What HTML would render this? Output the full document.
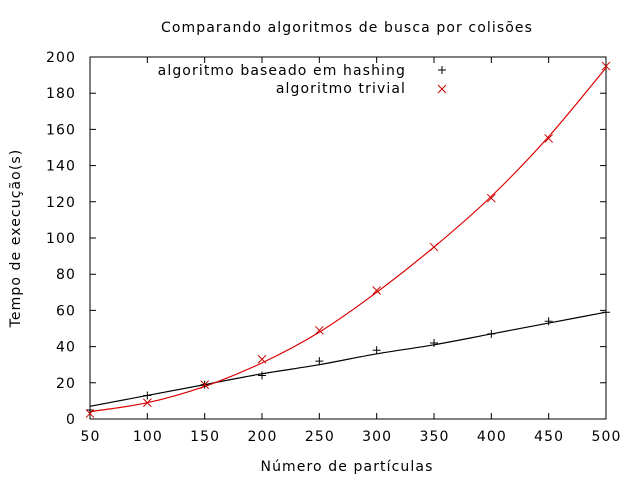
<!DOCTYPE html>
<html><head><meta charset="utf-8"><style>
body{margin:0;background:#fff;}
svg{display:block;font-family:"DejaVu Sans","Liberation Sans",sans-serif;}
text{letter-spacing:1.1px;}
</style></head><body>
<svg id="chart" width="640" height="480">
<text x="347" y="32" text-anchor="middle" font-size="14">Comparando algoritmos de busca por colisões</text>
<text x="347" y="471" text-anchor="middle" font-size="14">Número de partículas</text>
<text transform="translate(20,238) rotate(-90)" text-anchor="middle" font-size="14">Tempo de execução(s)</text>
<g id="axes"></g>
<g id="series"></g>
<g>
<text x="406" y="75" text-anchor="end" font-size="14">algoritmo baseado em hashing</text>
<text x="406" y="93" text-anchor="end" font-size="14">algoritmo trivial</text>
<path d="M438,70h8M442,66v8" stroke="#000"/>
<path d="M438,85l8,8M446,85l-8,8" stroke="#c00"/>
</g>
</svg>
<script>
const xs=[50,100,150,200,250,300,350,400,450,500];
const hashing=[5,13,19,24,32,38,42,47,54,59];
const trivial=[3,9,19,33,49,71,95,122,155,195];
const hashingFit=[7,13,19,25,30,36,41,47,53,59];
const trivialFit=[4,9,18,31,48,70,95,123,156,194];
const xTicks=[50,100,150,200,250,300,350,400,450,500];
const yTicks=[0,20,40,60,80,100,120,140,160,180,200];
const L=90,R=606,T=57,B=419;
const X=v=>L+(v-50)/450*(R-L);
const Y=v=>B-v/200*(B-T);
const NS="http://www.w3.org/2000/svg";
const ax=document.getElementById('axes'),se=document.getElementById('series');
function mk(tag,attrs,parent){const e=document.createElementNS(NS,tag);for(const k in attrs)e.setAttribute(k,attrs[k]);parent.appendChild(e);return e;}
const box=mk('rect',{x:L,y:T,width:R-L,height:B-T,fill:'none',stroke:'#000'},ax);


xTicks.forEach(v=>{
 const t=mk('path',{d:`M${X(v)},${B}v-6M${X(v)},${T}v6`,stroke:'#000'},ax);
 
 
 const l=mk('text',{x:X(v)+0.5,y:B+22,'text-anchor':'middle','font-size':14},ax);l.textContent=v;
 
 
});
yTicks.forEach(v=>{
 const t=mk('path',{d:`M${L},${Y(v)}h6M${R},${Y(v)}h-6`,stroke:'#000'},ax);
 
 
 const l=mk('text',{x:L-14,y:Y(v)+5,'text-anchor':'end','font-size':14},ax);l.textContent=v;
 
 
});
function line(vals,color,name){
 let d='M'+X(xs[0])+','+Y(vals[0]);
 for(let i=0;i<xs.length-1;i++){
  const x0=X(xs[i]),x1=X(xs[i+1]),y0=Y(vals[i]),y1=Y(vals[i+1]);
  const yp=Y(vals[Math.max(0,i-1)]),yn=Y(vals[Math.min(xs.length-1,i+2)]);
  const dx=(x1-x0)/3;
  const m0=(y1-yp)/((i>0?2:1)),m1=(yn-y0)/((i<xs.length-2?2:1));
  d+=` C${x0+dx},${y0+m0/3} ${x1-dx},${y1-m1/3} ${x1},${y1}`;
 }
 const p=mk('path',{d,fill:'none',stroke:color,'stroke-width':1.2},se);
 
 
}
line(hashingFit,'#000','hashing-fit-line');
line(trivialFit,'#d00','trivial-fit-line');
xs.forEach((x,i)=>{
 const a=mk('path',{d:`M${X(x)-4},${Y(hashing[i])}h8M${X(x)},${Y(hashing[i])-4}v8`,stroke:'#000'},se);
 
 
 const cx=X(x),cy=Y(trivial[i]);
 const b=mk('path',{d:`M${cx-4},${cy-4}l8,8M${cx+4},${cy-4}l-8,8`,stroke:'#c00'},se);
 
 
});
</script>
</body></html>
